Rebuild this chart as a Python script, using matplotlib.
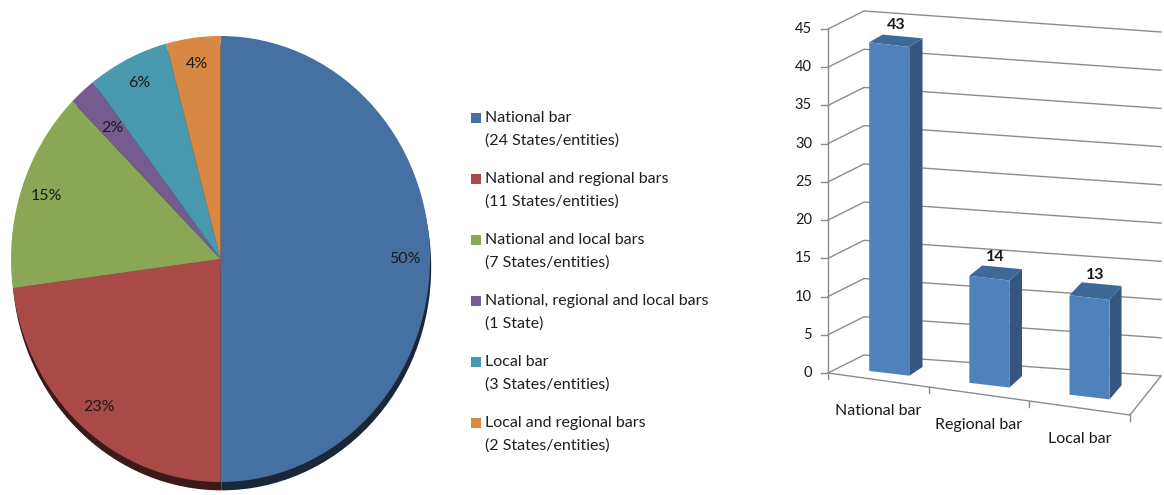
import matplotlib
matplotlib.use("Agg")
import matplotlib.pyplot as plt
from matplotlib.patches import Polygon, Rectangle
import numpy as np

plt.rcParams['font.family'] = ['Lato', 'DejaVu Sans']

# ---------------- data ----------------
pie_labels = ["National bar", "National and regional bars", "National and local bars",
              "National, regional and local bars", "Local bar", "Local and regional bars"]
pie_sublabels = ["(24 States/entities)", "(11 States/entities)", "(7 States/entities)",
                 "(1 State)", "(3 States/entities)", "(2 States/entities)"]
pie_counts = [24, 11, 7, 1, 3, 2]
pie_colors = ["#4670A2", "#A94A48", "#8BA654", "#745C8F", "#4898AE", "#D88843"]

bar_categories = ["National bar", "Regional bar", "Local bar"]
bar_values = [43, 14, 13]
y_ticks = [0, 5, 10, 15, 20, 25, 30, 35, 40, 45]

# ---------------- figure ----------------
W, H = 1164, 495
fig = plt.figure(figsize=(W / 100, H / 100), dpi=100)
fig.patch.set_facecolor("white")


def rect(x0, y0, w, h):
    return [x0 / W, 1 - (y0 + h) / H, w / W, h / H]


# ---------------- pie ----------------
cx, cy, rx, ry = 220.5, 259, 209.5, 223
pad = 1.06
axp = fig.add_axes(rect(cx - rx * pad, cy - ry * pad, 2 * rx * pad, 2 * ry * pad))
wedges, texts, autotexts = axp.pie(
    pie_counts, colors=pie_colors, startangle=90, counterclock=False,
    autopct=lambda p: f"{p:.0f}%", pctdistance=0.88,
    shadow={'ox': 0.004, 'oy': -0.027, 'shade': 0.65, 'alpha': 1.0},
    wedgeprops=dict(linewidth=0),
    textprops=dict(fontsize=11.5, color="#1a1a1a"))
axp.set_aspect('auto')
axp.set_xlim(-pad, pad)
axp.set_ylim(-pad, pad)
axp.axis('off')
# the thin purple slice has its label drawn closer to the centre
w_small = wedges[3]
ang = np.deg2rad((w_small.theta1 + w_small.theta2) / 2)
autotexts[3].set_position((0.78 * np.cos(ang), 0.78 * np.sin(ang)))

# ---------------- overlay axes in pixel units (legend + 3D bar chart) ----------------
ax = fig.add_axes([0, 0, 1, 1])
ax.set_xlim(0, W)
ax.set_ylim(H, 0)
ax.axis('off')
ax.patch.set_alpha(0)

# legend
leg_x, leg_y0, leg_dy, line_dy = 471, 118, 61, 23
for i, (lab, sub, col) in enumerate(zip(pie_labels, pie_sublabels, pie_colors)):
    y = leg_y0 + i * leg_dy
    ax.add_patch(Rectangle((leg_x, y - 5), 10, 10, facecolor=col, edgecolor='none'))
    ax.text(leg_x + 14, y, lab, fontsize=11.5, color="#1f1f1f", va='center', ha='left')
    ax.text(leg_x + 14, y + line_dy, sub, fontsize=11.5, color="#1f1f1f", va='center', ha='left')

# 3D bar chart (bilinear perspective of the floor, vertical value scale)
FL = np.array([828.0, 373.0])
FR = np.array([1130.0, 415.0])
BL = np.array([864.0, 355.0])
BR = np.array([1161.0, 376.0])
vmax = y_ticks[-1]
v_px = 344.0 / vmax
ncat = len(bar_categories)


def proj(s, t, v):
    p = (1 - s) * (1 - t) * FL + s * (1 - t) * FR + (1 - s) * t * BL + s * t * BR
    return (p[0], p[1] - v * v_px)


grid_c = "#8c8c8c"
for v in y_ticks:
    pts = [proj(0, 0, v), proj(0, 1, v), proj(1, 1, v)]
    ax.plot([p[0] for p in pts], [p[1] for p in pts], color=grid_c, lw=1.0, zorder=1)
    x0, y0 = proj(0, 0, v)
    ax.plot([x0 - 7, x0], [y0, y0], color=grid_c, lw=1.0, zorder=1)
    ax.text(x0 - 16, y0, str(v), fontsize=10.5, color="#1a1a1a", ha='right', va='center')

# axis lines
for a, b in [((0, 0, 0), (0, 0, vmax)), ((0, 0, 0), (1, 0, 0)), ((1, 0, 0), (1, 1, 0))]:
    pa, pb = proj(*a), proj(*b)
    ax.plot([pa[0], pb[0]], [pa[1], pb[1]], color=grid_c, lw=1.0, zorder=1)
for k in range(ncat + 1):
    px, py = proj(k / ncat, 0, 0)
    ax.plot([px, px], [py, py + 6], color=grid_c, lw=1.0, zorder=1)

front_c, side_c, top_c = "#4F81BD", "#34567F", "#3E6898"
hw, t0, t1 = 0.2, 0.31, 0.69
for i, (cat, val) in enumerate(zip(bar_categories, bar_values)):
    s0 = (i + 0.5 - hw) / ncat
    s1 = (i + 0.5 + hw) / ncat
    front = [proj(s0, t0, 0), proj(s1, t0, 0), proj(s1, t0, val), proj(s0, t0, val)]
    side = [proj(s1, t0, 0), proj(s1, t1, 0), proj(s1, t1, val), proj(s1, t0, val)]
    top = [proj(s0, t0, val), proj(s1, t0, val), proj(s1, t1, val), proj(s0, t1, val)]
    ax.add_patch(Polygon(side, closed=True, facecolor=side_c, edgecolor='none', zorder=3))
    ax.add_patch(Polygon(top, closed=True, facecolor=top_c, edgecolor='none', zorder=3))
    ax.add_patch(Polygon(front, closed=True, facecolor=front_c, edgecolor='none', zorder=3))
    lx, ly = proj((i + 0.5) / ncat, 0.5, val)
    ax.text(lx, ly - 9, str(val), fontsize=11.5, fontweight='bold', color="#1a1a1a",
            ha='center', va='bottom', zorder=4)
    cxp, cyp = proj((i + 0.5) / ncat, 0, 0)
    ax.text(cxp, cyp + 31, cat, fontsize=11.5, color="#1a1a1a", ha='center', va='center')

fig.savefig("out.png", dpi=100, facecolor="white")
